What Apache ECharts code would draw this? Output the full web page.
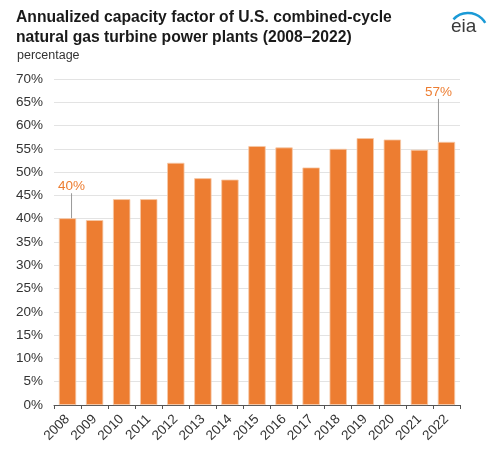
<!DOCTYPE html>
<html><head><meta charset="utf-8">
<script src="https://cdn.jsdelivr.net/npm/echarts@6/dist/echarts.min.js"></script>
<style>html,body{margin:0;padding:0;background:#fff}#c{width:500px;height:452px}</style>
</head><body><div id="c"></div>
<script>
var years = ['2008','2009','2010','2011','2012','2013','2014','2015','2016','2017','2018','2019','2020','2021','2022'];
var capacityFactor = [40.1, 39.7, 44.2, 44.2, 52.0, 48.7, 48.4, 55.6, 55.3, 51.0, 55.0, 57.3, 57.0, 54.8, 56.5];
var annotated = {0: '40%', 14: '57%'};

var orange = '#ED7D31';
var data = capacityFactor.map(function(v, i){
  var item = {value: v};
  if (annotated[i] !== undefined) {
    item.label = {show: true, position: 'top', formatter: annotated[i]};
    item.labelLine = {show: true};
  }
  return item;
});

var chart = echarts.init(document.getElementById('c'), null, {renderer:'canvas'});
chart.setOption({
  animation: false,
  textStyle: {fontFamily: 'Liberation Sans, Arial, sans-serif'},
  title: [{
    text: 'Annualized capacity factor of U.S. combined-cycle\nnatural gas turbine power plants (2008\u20132022)',
    left: 11, top: 3,
    textStyle: {fontSize: 15.7, fontWeight: 'bold', color: '#1a1a1a', lineHeight: 20, fontFamily: 'Liberation Sans, Arial, sans-serif'}
  },{
    text: 'percentage', left: 12, top: 44,
    textStyle: {fontSize: 12.5, fontWeight: 'normal', color: '#333', fontFamily: 'Liberation Sans, Arial, sans-serif'}
  }],
  graphic: [{
    type: 'text', left: 451, top: 17,
    style: {text: 'eia', font: '19px Liberation Sans, Arial, sans-serif', fill: '#3a3a3a'}
  },{
    type: 'arc', shape: {cx: 468, cy: 33, r: 20, startAngle: -Math.PI*0.76, endAngle: -Math.PI*0.17},
    style: {stroke: '#1b9ad6', lineWidth: 2.5, fill: null}
  }],
  grid: {left: 54, right: 40, top: 79, bottom: 47},
  xAxis: {
    type: 'category', data: years,
    axisLine: {lineStyle: {color: '#555', width: 1}},
    axisTick: {show: true, alignWithLabel: false, length: 4, lineStyle: {color: '#555'}},
    axisLabel: {rotate: 45, fontSize: 13.5, color: '#333', margin: 12}
  },
  yAxis: {
    type: 'value', min: 0, max: 70, interval: 5,
    axisLine: {show: false}, axisTick: {show: false},
    axisLabel: {formatter: '{value}%', fontSize: 13.5, color: '#333', margin: 11},
    splitLine: {lineStyle: {color: '#e3e3e3', width: 1}}
  },
  series: [{
    type: 'bar', data: data, barCategoryGap: '36%',
    itemStyle: {color: orange, borderColor: '#f6c9a8', borderWidth: 0.8},
    label: {show: false, color: orange, fontSize: 13.5},
    labelLine: {show: false, lineStyle: {color: '#999', width: 1}},
    labelLayout: function(p){
      if (p.dataIndex === 0) return {dx: 4, dy: -20};
      if (p.dataIndex === 14) return {dx: -8, dy: -38};
      return {};
    }
  }]
});
</script></body></html>
